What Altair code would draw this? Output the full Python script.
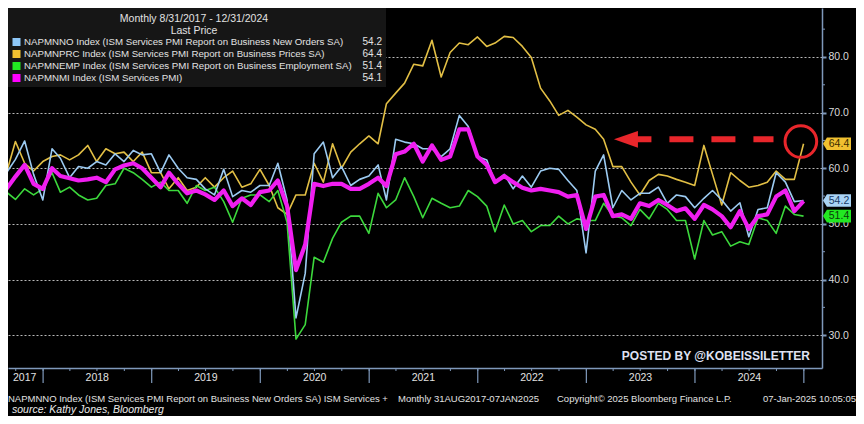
import altair as alt
import pandas as pd

# ---------------- data ----------------
months = pd.date_range("2017-08-31", "2024-12-31", freq="ME").strftime("%Y-%m-%d").tolist()

new_orders = [
    59.2, 61.6, 64.9, 58.9, 54.3,
    63.5, 61.8, 58.3, 60.3, 60.0, 61.2, 60.6, 62.6, 61.2, 63.2, 62.4, 62.6,
    59.2, 62.4, 60.0, 58.3, 58.0, 56.3, 55.2, 59.8, 54.9, 56.0, 55.7, 56.9,
    56.9, 60.9, 54.3, 33.1, 41.1, 62.6, 64.7, 58.3, 60.3, 56.9, 58.0, 58.6,
    60.6, 54.3, 65.2, 64.7, 64.4, 63.5, 63.5, 62.1, 63.5, 69.5, 67.5, 62.1,
    61.5, 57.5, 58.9, 56.3, 58.6, 56.6, 59.5, 60.0, 59.8, 57.8, 56.0, 44.8,
    59.5, 62.4, 52.9, 56.0, 54.3, 55.5, 55.5, 56.6, 53.7, 55.2, 54.9, 52.9,
    54.6, 56.0, 54.3, 52.3, 53.8, 47.7, 52.6, 52.9, 59.2, 57.5, 54.0, 54.2,
]

prices = [
    59.2, 64.8, 60.9, 59.5, 61.2,
    62.1, 62.4, 61.5, 62.4, 64.1, 61.2, 63.5, 62.6, 62.9, 61.2, 62.9, 59.2,
    59.2, 56.3, 58.3, 56.0, 56.6, 58.3, 56.6, 58.3, 59.5, 56.6, 57.2, 59.8,
    56.9, 52.9, 51.7, 55.2, 55.2, 60.9, 57.5, 64.4, 60.0, 62.9, 64.4, 65.8,
    64.4, 71.6, 73.5, 75.3, 78.7, 78.4, 83.0, 76.4, 80.8, 82.5, 82.2, 83.6,
    81.9, 82.5, 83.7, 83.5, 81.9, 79.9, 74.4, 72.1, 69.5, 70.4, 69.2, 67.8,
    67.0, 65.2, 60.3, 60.3, 57.5, 55.2, 57.8, 58.9, 58.6, 58.0, 57.5, 56.9,
    64.1, 58.9, 53.4, 59.2, 57.8, 56.6, 56.9, 57.5, 59.5, 58.0, 58.0, 64.4,
]

employment = [
    55.7, 54.4, 56.3, 55.2, 56.3,
    59.2, 55.7, 56.6, 55.2, 54.3, 54.6, 56.9, 57.2, 60.0, 59.2, 58.0, 56.6,
    57.5, 56.0, 56.0, 53.7, 56.9, 56.0, 56.6, 54.0, 50.3, 54.6, 55.2, 55.2,
    54.0, 56.0, 50.3, 29.3, 31.9, 44.0, 43.1, 47.4, 50.3, 51.4, 51.4, 48.3,
    55.5, 52.9, 54.3, 58.3, 54.9, 51.1, 54.6, 53.7, 52.9, 53.2, 56.0, 54.9,
    53.2, 48.6, 53.4, 50.0, 50.6, 48.6, 49.7, 49.7, 51.4, 50.0, 50.9, 50.6,
    50.6, 53.7, 51.4, 51.1, 49.7, 52.6, 50.9, 53.7, 52.6, 50.6, 50.6, 43.7,
    50.6, 48.0, 48.6, 46.0, 46.8, 46.3, 51.1, 50.6, 48.3, 53.2, 51.7, 51.4,
]

services_pmi = [
    56.3, 58.5, 60.6, 57.2, 56.3,
    60.0, 58.6, 58.2, 57.8, 58.0, 58.3, 57.5, 59.8, 60.5, 60.9, 60.0, 58.3,
    56.6, 59.2, 57.2, 55.5, 56.0, 55.3, 54.3, 56.0, 53.2, 54.6, 53.4, 55.7,
    56.0, 57.8, 53.2, 41.7, 46.3, 57.2, 56.8, 57.2, 57.2, 56.3, 56.3, 57.2,
    58.3, 56.8, 62.5, 63.0, 64.4, 61.2, 64.1, 61.5, 62.1, 67.0, 67.0, 62.1,
    60.6, 57.5, 58.6, 57.5, 56.5, 56.0, 56.3, 56.0, 55.7, 54.9, 55.2, 49.1,
    54.9, 55.2, 51.4, 51.7, 50.9, 53.7, 53.2, 54.3, 53.4, 52.3, 52.8, 50.9,
    53.4, 52.6, 51.4, 49.4, 52.3, 49.1, 51.4, 51.7, 54.9, 56.0, 52.3, 54.1,
]

codes = ["NAPMNNO", "NAPMNPRC", "NAPMNEMP", "NAPMNMI"]
legend_labels = [
    "NAPMNNO Index (ISM Services PMI Report on Business New Orders SA)",
    "NAPMNPRC Index (ISM Services PMI Report on Business Prices SA)",
    "NAPMNEMP Index (ISM Services PMI Report on Business Employment SA)",
    "NAPMNMI Index (ISM Services PMI)",
]
last_prices = [54.2, 64.4, 51.4, 54.1]
line_colors = ["#9ccbf2", "#e2bf45", "#3cd83c", "#f01ef0"]
swatch_colors = ["#8ec8f8", "#f0c030", "#22e822", "#ff00ff"]
tag_fills = ["#a9d3f5", "#f0c030", "#22e822", "#ff00ff"]
tag_text_colors = ["#163a66", "#3a2c00", "#0a3a0a", "#3a003a"]
line_widths = [1.6, 1.6, 1.6, 4.2]
draw_order = ["NAPMNPRC", "NAPMNEMP", "NAPMNNO", "NAPMNMI"]
tag_series = [2, 0, 1]  # tags visible on the right axis (employment, new orders, prices)

year_labels = ["2017", "2018", "2019", "2020", "2021", "2022", "2023", "2024"]
year_label_dates = ["2017-10-31", "2018-07-02", "2019-07-02", "2020-07-02",
                    "2021-07-02", "2022-07-02", "2023-07-02", "2024-07-02"]
year_starts = ["2018-01-01", "2019-01-01", "2020-01-01", "2021-01-01",
               "2022-01-01", "2023-01-01", "2024-01-01", "2025-01-01"]
quarter_starts = pd.date_range("2017-10-01", "2025-01-01", freq="QS").strftime("%Y-%m-%d").tolist()
y_major = [30, 40, 50, 60, 70, 80]
y_minor = [35, 45, 55, 65, 75, 85]

title_text = "Monthly 8/31/2017 - 12/31/2024"
subtitle_text = "Last Price"
footer_parts = [
    "NAPMNNO Index (ISM Services PMI Report on Business New Orders SA) ISM Services +",
    "Monthly 31AUG2017-07JAN2025",
    "Copyright\u00a9 2025 Bloomberg Finance L.P.",
    "07-Jan-2025 10:05:05",
]
source_text = "source: Kathy Jones, Bloomberg"
watermark = "POSTED BY @KOBEISSILETTER"

# arrow / circle annotation (in data units)
arrow_value = 65.2
arrow_start, arrow_end = "2023-05-19", "2024-09-21"
arrow_head_date = "2023-05-14"
circle_date, circle_value = "2024-12-22", 64.8

# ---------------- layout ----------------
W, H = 814, 360
FONT = "Liberation Sans, Arial, sans-serif"
TXT = "#e2e2e2"
AXIS_COL = "#7f99bb"
RED = "#e8262b"

rows = []
for code, vals in zip(codes, [new_orders, prices, employment, services_pmi]):
    for d, v in zip(months, vals):
        rows.append({"date": d, "series": code, "value": v})
df = pd.DataFrame(rows)

X = alt.X("date:T",
          scale=alt.Scale(type="utc",
                          domain=[alt.DateTime(year=2017, month=9, date=5, utc=True),
                                  alt.DateTime(year=2025, month=3, date=3, utc=True)]),
          axis=alt.Axis(domain=True, domainColor=AXIS_COL, domainWidth=1.5, ticks=False,
                        labels=False, grid=False, title=None))
Y = alt.Y("value:Q",
          scale=alt.Scale(domain=[24.1, 88.8], nice=False, zero=False),
          axis=alt.Axis(orient="right", values=y_major, format=".1f", grid=True,
                        gridColor="#b8b8b8", gridDash=[2, 2], gridWidth=1,
                        domainColor=AXIS_COL, domainWidth=1.5, tickColor=AXIS_COL,
                        tickSize=4, tickWidth=2, labelColor="#dadada", labelFontSize=10.5,
                        labelFont=FONT, labelPadding=2, title=None))

layers = []
for code in draw_order:
    i = codes.index(code)
    layers.append(
        alt.Chart(df).transform_filter(alt.datum.series == code)
        .mark_line(color=line_colors[i], strokeWidth=line_widths[i], clip=True,
                   strokeJoin="round")
        .encode(x=X, y=Y)
    )

# minor y ticks
layers.append(
    alt.Chart(pd.DataFrame({"value": y_minor})).mark_rule(color=AXIS_COL, strokeWidth=1)
    .encode(y=Y, x=alt.value(W), x2=alt.value(W + 3))
)

# x axis ticks (years = major, quarters = minor)
layers.append(
    alt.Chart(pd.DataFrame({"date": quarter_starts})).mark_rule(color=AXIS_COL, strokeWidth=1)
    .encode(x=X, y=alt.value(H), y2=alt.value(H + 3))
)
layers.append(
    alt.Chart(pd.DataFrame({"date": year_starts})).mark_rule(color=AXIS_COL, strokeWidth=1.2)
    .encode(x=X, y=alt.value(H), y2=alt.value(H + 15))
)
layers.append(
    alt.Chart(pd.DataFrame({"date": year_label_dates, "label": year_labels}))
    .mark_text(font=FONT, fontSize=10.5, color=TXT, baseline="middle", align="center")
    .encode(x=X, y=alt.value(H + 10), text="label:N")
)

# legend box
one = pd.DataFrame({"k": [0]})
layers.append(
    alt.Chart(one).mark_rect(color="#161616")
    .encode(x=alt.value(0), x2=alt.value(378), y=alt.value(0), y2=alt.value(79))
)
layers.append(
    alt.Chart(pd.DataFrame({"t": [title_text]})).mark_text(
        font=FONT, fontSize=10.5, color=TXT, align="center", baseline="middle")
    .encode(x=alt.value(186), y=alt.value(11), text="t:N")
)
layers.append(
    alt.Chart(pd.DataFrame({"t": [subtitle_text]})).mark_text(
        font=FONT, fontSize=10.5, color=TXT, align="center", baseline="middle")
    .encode(x=alt.value(186), y=alt.value(22.5), text="t:N")
)
for i in range(4):
    yy = 34 + 12 * i
    rdf = pd.DataFrame({"label": [legend_labels[i]], "last": [f"{last_prices[i]:.1f}"]})
    layers.append(
        alt.Chart(rdf).mark_square(size=64, opacity=1, color=swatch_colors[i])
        .encode(x=alt.value(8.5), y=alt.value(yy))
    )
    layers.append(
        alt.Chart(rdf).mark_text(font=FONT, fontSize=9.7, color=TXT, align="left", baseline="middle")
        .encode(x=alt.value(16), y=alt.value(yy), text="label:N")
    )
    layers.append(
        alt.Chart(rdf).mark_text(font=FONT, fontSize=10, color=TXT, align="right", baseline="middle")
        .encode(x=alt.value(374), y=alt.value(yy), text="last:N")
    )

# red dashed arrow and circle
layers.append(
    alt.Chart(pd.DataFrame({"date": [arrow_start], "date2": [arrow_end], "value": [arrow_value]}))
    .mark_rule(color=RED, strokeWidth=6, strokeDash=[24, 18], strokeCap="butt")
    .encode(x=X, x2="date2:T", y=Y)
)
layers.append(
    alt.Chart(pd.DataFrame({"date": [arrow_head_date], "value": [arrow_value]}))
    .mark_point(shape="M-1,0 L1,-0.7 L1,0.7 Z", filled=True, opacity=1, color=RED, size=576)
    .encode(x=X, y=Y)
)
layers.append(
    alt.Chart(pd.DataFrame({"date": [circle_date], "value": [circle_value]}))
    .mark_point(shape="circle", filled=False, opacity=1, color=RED, strokeWidth=3, size=1000)
    .encode(x=X, y=Y)
)

# last-price tags on the right axis
tags = pd.DataFrame({
    "value": [last_prices[i] for i in tag_series],
    "fill": [tag_fills[i] for i in tag_series],
    "tcol": [tag_text_colors[i] for i in tag_series],
    "txt": [f"{last_prices[i]:.1f}" for i in tag_series],
})
layers.append(
    alt.Chart(tags).mark_point(shape="M-1,0 L-0.72,-0.45 L1,-0.45 L1,0.45 L-0.72,0.45 Z",
                               filled=True, opacity=1, size=784)
    .encode(x=alt.value(W + 15), y=Y, color=alt.Color("fill:N", scale=None))
)
layers.append(
    alt.Chart(tags).mark_text(font=FONT, fontSize=10.5, align="center", baseline="middle")
    .encode(x=alt.value(W + 17), y=Y, text="txt:N", color=alt.Color("tcol:N", scale=None))
)

# watermark
layers.append(
    alt.Chart(pd.DataFrame({"t": [watermark]})).mark_text(
        font=FONT, fontWeight="bold", fontSize=12,
        color="#dfe1f2", align="right", baseline="middle")
    .encode(x=alt.value(W - 12), y=alt.value(H - 12), text="t:N")
)

# footer
footer_x = [0, 390, 549, 848]
footer_align = ["left", "left", "left", "right"]
for txt, fx, fa in zip(footer_parts, footer_x, footer_align):
    layers.append(
        alt.Chart(pd.DataFrame({"t": [txt]})).mark_text(
            font=FONT, fontSize=9.5, color=TXT, align=fa, baseline="middle")
        .encode(x=alt.value(fx), y=alt.value(H + 31), text="t:N")
    )
layers.append(
    alt.Chart(pd.DataFrame({"t": [source_text]})).mark_text(
        font=FONT, fontStyle="italic", fontSize=10.5,
        color="#ececec", align="left", baseline="middle")
    .encode(x=alt.value(4), y=alt.value(H + 42), text="t:N")
)

chart = (
    alt.layer(*layers)
    .properties(width=W, height=H, background="#000000",
                padding={"left": 0, "top": 0, "right": 34, "bottom": 48},
                autosize=alt.AutoSizeParams(type="none"))
    .configure_view(stroke=None)
)

chart.save("out.html", embed_options={"renderer": "svg", "actions": False})
